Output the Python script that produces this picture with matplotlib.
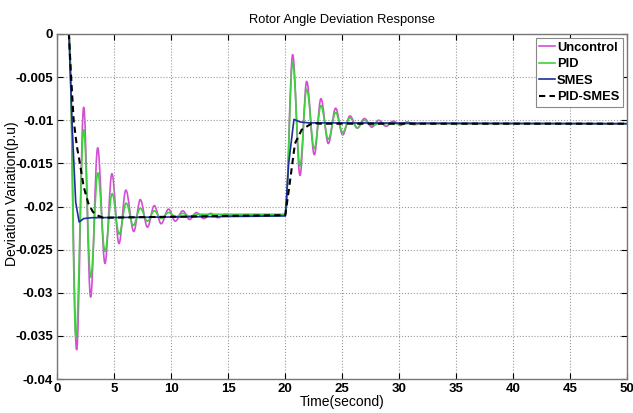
import matplotlib
matplotlib.use("Agg")
import matplotlib.pyplot as plt
from matplotlib.path import Path
from matplotlib.patches import PathPatch

plt.rcParams['font.family'] = ['Liberation Sans', 'DejaVu Sans']
plt.rcParams['font.weight'] = 'bold'

# values (time in s, deviation in p.u)
# oscillating series: start, then successive peaks / troughs
t_unc = [0, 1.0, 1.68, 2.30, 2.91, 3.53, 4.17, 4.78, 5.40, 6.00, 6.70, 7.27, 7.90, 8.50,
         9.10, 9.75, 10.35, 11.0, 11.6, 12.2, 12.85, 13.45, 14.1, 14.7, 15.5, 20.0,
         20.65, 21.29, 21.88, 22.55, 23.13, 23.78, 24.42, 25.04, 25.68, 26.32, 26.95,
         27.6, 28.2, 28.85, 29.5, 30.1, 30.7, 31.3, 32.0, 50.0]
v_unc = [0, 0, -0.0366, -0.0085, -0.0305, -0.0132, -0.0266, -0.0162, -0.0243, -0.0181,
         -0.0229, -0.0192, -0.0224, -0.0199, -0.0220, -0.0203, -0.0217, -0.0205, -0.0215,
         -0.0207, -0.0214, -0.0208, -0.0213, -0.0209, -0.0211, -0.0210,
         -0.0024, -0.0164, -0.0055, -0.0140, -0.0075, -0.0127, -0.0086, -0.0117, -0.0095,
         -0.0109, -0.0098, -0.0108, -0.0100, -0.0107, -0.0101, -0.0106, -0.0102, -0.0105,
         -0.0104, -0.0104]

t_pid = [0, 1.0, 1.62, 2.30, 2.92, 3.54, 4.17, 4.80, 5.42, 6.03, 6.65, 7.27, 7.90, 8.50,
         9.10, 9.75, 10.4, 11.0, 11.6, 12.3, 20.0,
         20.65, 21.29, 21.88, 22.55, 23.13, 23.78, 24.42, 25.04, 25.68, 26.32, 26.95,
         27.6, 28.3, 50.0]
v_pid = [0, 0, -0.0352, -0.0111, -0.0282, -0.0161, -0.0252, -0.0185, -0.0232, -0.0196,
         -0.0222, -0.0202, -0.0217, -0.0205, -0.0214, -0.0207, -0.0212, -0.0208, -0.0211,
         -0.0209, -0.0209,
         -0.0033, -0.0153, -0.0064, -0.0133, -0.0083, -0.0122, -0.0091, -0.0114, -0.0097,
         -0.0109, -0.0100, -0.0106, -0.0104, -0.0104]

t_smes = [0, 1.0, 1.30, 1.60, 1.90, 2.30, 3.0, 20.0, 20.3, 20.76, 21.3, 22.0, 50.0]
v_smes = [0, 0, -0.0110, -0.0195, -0.0218, -0.0214, -0.0213, -0.0211,
          -0.0150, -0.0099, -0.0102, -0.0103, -0.0104]

t_ps = [0, 1.0, 1.19, 1.42, 1.70, 1.97, 2.30, 2.70, 3.10, 3.44, 4.0, 20.0,
        20.35, 20.85, 21.44, 22.4, 23.0, 50.0]
v_ps = [0, 0, -0.0048, -0.0100, -0.0130, -0.0150, -0.0177, -0.0196, -0.0206, -0.0210,
        -0.0213, -0.0210, -0.0177, -0.0127, -0.0111, -0.0103, -0.0104, -0.0104]

x_ticks = list(range(0, 51, 5))
y_ticks = [0, -0.005, -0.01, -0.015, -0.02, -0.025, -0.03, -0.035, -0.04]
y_tick_labels = ['0', '-0.005', '-0.01', '-0.015', '-0.02', '-0.025', '-0.03', '-0.035', '-0.04']


def extrema_path(t, v, k=0.36):
    # bezier segments with flat tangents at each peak/trough
    verts = [(t[0], v[0])]
    codes = [Path.MOVETO]
    for i in range(1, len(t)):
        dt = t[i] - t[i - 1]
        verts += [(t[i - 1] + k * dt, v[i - 1]), (t[i] - k * dt, v[i]), (t[i], v[i])]
        codes += [Path.CURVE4] * 3
    return Path(verts, codes)


fig = plt.figure(figsize=(6.33, 4.13), dpi=100)
ax = fig.add_axes([0.0908, 0.0823, 0.8997, 0.8354])

c_unc, c_pid, c_smes = '#d24fd2', '#3fcf3f', '#1f2f9a'
ax.add_patch(PathPatch(extrema_path(t_unc, v_unc), fill=False, ec=c_unc, lw=1.2,
                       joinstyle='round'))
ax.add_patch(PathPatch(extrema_path(t_pid, v_pid), fill=False, ec=c_pid, lw=1.2,
                       joinstyle='round'))
ax.plot(t_smes, v_smes, color=c_smes, lw=1.2, solid_joinstyle='round')
ax.plot(t_ps, v_ps, color='black', lw=1.5, ls=(0, (3, 2)))

h = [plt.Line2D([], [], color=c_unc, lw=1.2),
     plt.Line2D([], [], color=c_pid, lw=1.2),
     plt.Line2D([], [], color=c_smes, lw=1.2),
     plt.Line2D([], [], color='black', lw=1.5, ls=(0, (3, 2)))]
labels = ['Uncontrol', 'PID', 'SMES', 'PID-SMES']

ax.set_xlim(0, 50)
ax.set_ylim(-0.04, 0)
ax.set_xticks(x_ticks)
ax.set_yticks(y_ticks)
ax.set_yticklabels(y_tick_labels)
ax.tick_params(direction='in', length=4, labelsize=9.5, width=0.8, pad=3,
               top=True, right=True)
ax.grid(True, ls=':', color='#999999', lw=0.8)
for s in ax.spines.values():
    s.set_color('#777777')
    s.set_linewidth(1.0)

ax.set_title('Rotor Angle Deviation Response', fontsize=9.3, pad=8)
ax.set_xlabel('Time(second)', fontsize=10, labelpad=0)
ax.set_ylabel('Deviation Variation(p.u)', fontsize=10)
ax.yaxis.set_label_coords(-0.068, 0.536)

leg = ax.legend(h, labels, loc='upper right', fontsize=9.3, handlelength=1.2,
                handletextpad=0.15, labelspacing=0.35, borderpad=0.3, borderaxespad=0.3,
                fancybox=False, framealpha=1)
leg.get_frame().set_edgecolor('#888888')
leg.get_frame().set_linewidth(0.8)

fig.savefig('out.png', dpi=100)
